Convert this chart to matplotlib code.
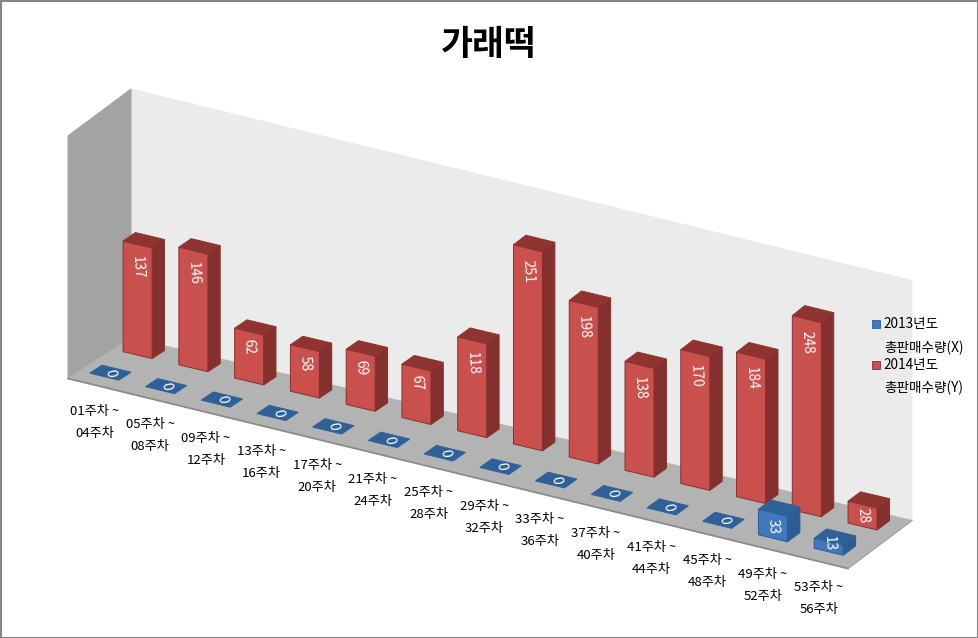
import numpy as np
import matplotlib
matplotlib.use('Agg')
import matplotlib.pyplot as plt
from matplotlib.patches import Polygon, Rectangle

plt.rcParams['font.family'] = ['Noto Sans CJK KR', 'DejaVu Sans']

title = '가래떡'
weeks_from = ['01주차 ~', '05주차 ~', '09주차 ~', '13주차 ~', '17주차 ~', '21주차 ~', '25주차 ~',
              '29주차 ~', '33주차 ~', '37주차 ~', '41주차 ~', '45주차 ~', '49주차 ~', '53주차 ~']
weeks_to = ['04주차', '08주차', '12주차', '16주차', '20주차', '24주차', '28주차',
            '32주차', '36주차', '40주차', '44주차', '48주차', '52주차', '56주차']
sales_2013 = [0, 0, 0, 0, 0, 0, 0, 0, 0, 0, 0, 0, 33, 13]
sales_2014 = [137, 146, 62, 58, 69, 67, 118, 251, 198, 138, 170, 184, 248, 28]
legend_names = ['2013년도', '총판매수량(X)', '2014년도', '총판매수량(Y)']

n_cat = len(weeks_from)
axis_max = 306

# floor corners and wall heights in image pixels
FL, FR = np.array([68.0, 378.5]), np.array([848.0, 568.5])
BL, BR = np.array([131.0, 338.0]), np.array([912.0, 520.5])
H_FL, H_FR, H_BL, H_BR = 242.7, 235.0, 249.0, 240.0


def project(u, d, v=0.0):
    # u along the categories, d into the depth (0 front, 1 back), v the value
    p = (1 - u) * (1 - d) * FL + u * (1 - d) * FR + (1 - u) * d * BL + u * d * BR
    h = (1 - u) * (1 - d) * H_FL + u * (1 - d) * H_FR + (1 - u) * d * H_BL + u * d * H_BR
    return p[0], p[1] - h * v / axis_max


def add_face(ax, pts, color, edge=None, z=2):
    ax.add_patch(Polygon(pts, closed=True, facecolor=color, edgecolor=edge or color, linewidth=0.7, zorder=z))


def draw_bar(ax, i, val, d0, d1, front, side, top, z):
    half = 0.26 / n_cat
    u = (i + 0.435) / n_cat
    u0, u1 = u - half, u + half
    if val == 0:
        add_face(ax, [project(u0, d0), project(u1, d0), project(u1, d1), project(u0, d1)], top, z=z)
        x, y = project(u, (d0 + d1) / 2)
        ax.text(x, y, '0', color='white', fontsize=10, rotation=-80, ha='center', va='center', zorder=z + 1)
        return
    add_face(ax, [project(u1, d0, 0), project(u1, d1, 0), project(u1, d1, val), project(u1, d0, val)], side, z=z)
    add_face(ax, [project(u0, d0, val), project(u1, d0, val), project(u1, d1, val), project(u0, d1, val)], top, z=z)
    add_face(ax, [project(u0, d0, 0), project(u1, d0, 0), project(u1, d0, val), project(u0, d0, val)], front,
             edge=side, z=z)
    # data label runs down the front face from its top
    label = str(val)
    x, y = project(u, d0, val)
    offset = min(8 * len(label) - 1, 0.6 * val - 6)
    ax.text(x, y + offset, label, color='white', fontsize=10, rotation=-87, ha='center', va='center',
            zorder=z + 1)


fig = plt.figure(figsize=(9.79, 6.38), dpi=100)
ax = fig.add_axes([0, 0, 1, 1])
ax.set_xlim(0, 979)
ax.set_ylim(638, 0)
ax.axis('off')

# chart border
ax.add_patch(Rectangle((0.5, 0.5), 978, 637, facecolor='white', edgecolor='#868686', linewidth=1.5, zorder=0))

# walls and floor
add_face(ax, [project(0, 1), project(1, 1), project(1, 1, axis_max), project(0, 1, axis_max)], '#EBEBEB', z=1)
add_face(ax, [project(0, 0), project(0, 1), project(0, 1, axis_max), project(0, 0, axis_max)], '#A3A3A3', z=1)
add_face(ax, [project(0, 0), project(1, 0), project(1, 1), project(0, 1)], '#B3B3B3', z=1)
ax.plot(*zip(project(0, 0), project(1, 0)), color='#8C8C8C', linewidth=1.3, zorder=1)
ax.plot(*zip(project(1, 0), project(1, 1)), color='#A0A0A0', linewidth=0.8, zorder=1)

# back series first, then the front one
for i, val in enumerate(sales_2014):
    draw_bar(ax, i, val, 0.72, 0.915, '#C9504D', '#85302E', '#8F3431', 3)
for i, val in enumerate(sales_2013):
    draw_bar(ax, i, val, 0.19, 0.385, '#4178BC', '#2D5C94', '#2F6098', 5)

# category labels under the front edge
for i in range(n_cat):
    x, y = project((i + 0.5) / n_cat, 0)
    ax.text(x - 1.5, y + 26, weeks_from[i], color='black', fontsize=9.5, ha='center', va='center', zorder=7)
    ax.text(x - 1.5, y + 48, weeks_to[i], color='black', fontsize=9.5, ha='center', va='center', zorder=7)

ax.text(489, 45, title, color='black', fontsize=25, fontweight='bold', ha='center', va='center', zorder=7)

# legend
for name, y, c, e in [(legend_names[0], 324, '#4178BC', '#2D5C94'), (legend_names[2], 365, '#C9504D', '#85302E')]:
    ax.add_patch(Rectangle((872.5, y - 4), 7.5, 7.5, facecolor=c, edgecolor=e, linewidth=0.6, zorder=7))
    ax.text(883, y, name, color='black', fontsize=9.8, ha='left', va='center', zorder=7)
ax.text(884, 348, legend_names[1], color='black', fontsize=9.8, ha='left', va='center', zorder=7)
ax.text(884, 388, legend_names[3], color='black', fontsize=9.8, ha='left', va='center', zorder=7)

fig.savefig('out.png', dpi=100)
